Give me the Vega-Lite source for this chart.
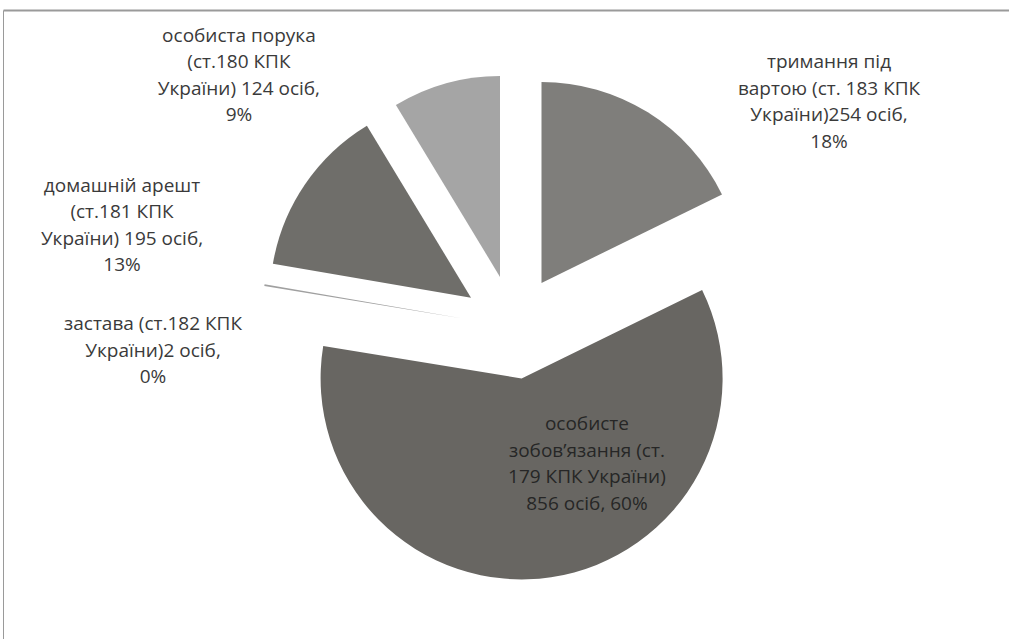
{
  "$schema": "https://vega.github.io/schema/vega-lite/v6.json",
  "width": 1006,
  "height": 629,
  "autosize": {"type": "none"},
  "padding": {"left": 3, "top": 10, "right": 0, "bottom": 0},
  "background": "white",
  "config": {"view": {"stroke": null, "strokeWidth": 0}},
  "data": {
    "values": [
      {"n": 1, "category": "тримання під вартою", "value": 254, "label": ["тримання під", "вартою (ст. 183 КПК", "України)254 осіб,", "18%"]},
      {"n": 2, "category": "особисте зобов’язання", "value": 856, "label": ["особисте", "зобов’язання (ст.", "179 КПК України)", "856 осіб, 60%"]},
      {"n": 3, "category": "застава", "value": 2, "label": ["застава (ст.182 КПК", "України)2 осіб,", "0%"]},
      {"n": 4, "category": "домашній арешт", "value": 195, "label": ["домашній арешт", "(ст.181 КПК", "України) 195 осіб,", "13%"]},
      {"n": 5, "category": "особиста порука", "value": 124, "label": ["особиста порука", "(ст.180 КПК", "України) 124 осіб,", "9%"]}
    ]
  },
  "transform": [
    {"stack": "value", "groupby": [], "sort": [{"field": "n", "order": "ascending"}], "as": ["t0", "t1"]}
  ],
  "layer": [
    {
      "mark": {"type": "point", "opacity": 0, "size": 0},
      "encoding": {
        "x": {"field": "value", "type": "quantitative", "axis": {"orient": "top", "labels": false, "ticks": false, "title": null, "grid": false, "domainColor": "#9a9a9a", "domainWidth": 2}},
        "y": {"field": "n", "type": "quantitative", "axis": {"orient": "left", "labels": false, "ticks": false, "title": null, "grid": false, "domainColor": "#9a9a9a", "domainWidth": 1}}
      }
    },
    {
      "transform": [{"filter": "datum.n == 1"}],
      "mark": {"type": "arc", "radius": 201, "xOffset": 35.5, "yOffset": -41.6},
      "encoding": {
        "theta": {"field": "t0", "type": "quantitative", "stack": null, "scale": {"domain": [0, 1431], "zero": true, "nice": false}},
        "theta2": {"field": "t1"},
        "color": {"field": "category", "type": "nominal", "legend": null,
          "scale": {"domain": ["тримання під вартою", "особисте зобов’язання", "застава", "домашній арешт", "особиста порука"],
                    "range": ["#7f7e7b", "#686662", "#a0a0a0", "#6f6e6a", "#a5a5a5"]}}
      }
    },
    {
      "transform": [{"filter": "datum.n == 2"}],
      "mark": {"type": "arc", "radius": 201, "xOffset": 15.6, "yOffset": 53.9},
      "encoding": {
        "theta": {"field": "t0", "type": "quantitative", "stack": null, "scale": {"domain": [0, 1431], "zero": true, "nice": false}},
        "theta2": {"field": "t1"}, "color": {"field": "category", "type": "nominal", "legend": null}}
    },
    {
      "transform": [{"filter": "datum.n == 3"}],
      "mark": {"type": "arc", "radius": 201, "xOffset": -43.3, "yOffset": -6.1},
      "encoding": {
        "theta": {"field": "t0", "type": "quantitative", "stack": null, "scale": {"domain": [0, 1431], "zero": true, "nice": false}},
        "theta2": {"field": "t1"}, "color": {"field": "category", "type": "nominal", "legend": null}}
    },
    {
      "transform": [{"filter": "datum.n == 4"}],
      "mark": {"type": "arc", "radius": 201, "xOffset": -35.0, "yOffset": -26.8},
      "encoding": {
        "theta": {"field": "t0", "type": "quantitative", "stack": null, "scale": {"domain": [0, 1431], "zero": true, "nice": false}},
        "theta2": {"field": "t1"}, "color": {"field": "category", "type": "nominal", "legend": null}}
    },
    {
      "transform": [{"filter": "datum.n == 5"}],
      "mark": {"type": "arc", "radius": 201, "xOffset": -6.0, "yOffset": -47.6},
      "encoding": {
        "theta": {"field": "t0", "type": "quantitative", "stack": null, "scale": {"domain": [0, 1431], "zero": true, "nice": false}},
        "theta2": {"field": "t1"}, "color": {"field": "category", "type": "nominal", "legend": null}}
    },
    {
      "transform": [{"filter": "datum.n == 1"}],
      "mark": {"type": "text", "radius": 259, "dx": 323, "dy": 2.5, "align": "center", "baseline": "alphabetic", "lineHeight": 26.5, "font": "Open Sans", "fontSize": 19, "color": "#3a3a3a"},
      "encoding": {
        "theta": {"field": "t0", "type": "quantitative", "stack": null, "scale": {"domain": [0, 1431], "zero": true, "nice": false}},
        "text": {"field": "label"}}
    },
    {
      "transform": [{"filter": "datum.n == 2"}],
      "mark": {"type": "text", "radius": 20.2, "dx": 62.8, "dy": 114.4, "align": "center", "baseline": "alphabetic", "lineHeight": 26.5, "font": "Open Sans", "fontSize": 19, "color": "#262626"},
      "encoding": {
        "theta": {"field": "t0", "type": "quantitative", "stack": null, "scale": {"domain": [0, 1431], "zero": true, "nice": false}},
        "text": {"field": "label"}}
    },
    {
      "transform": [{"filter": "datum.n == 3"}],
      "mark": {"type": "text", "radius": 355.8, "dx": -1.8, "dy": 62.7, "align": "center", "baseline": "alphabetic", "lineHeight": 26.5, "font": "Open Sans", "fontSize": 19, "color": "#3a3a3a"},
      "encoding": {
        "theta": {"field": "t0", "type": "quantitative", "stack": null, "scale": {"domain": [0, 1431], "zero": true, "nice": false}},
        "text": {"field": "label"}}
    },
    {
      "transform": [{"filter": "datum.n == 4"}],
      "mark": {"type": "text", "radius": 409.3, "dx": 19.4, "dy": -63.5, "align": "center", "baseline": "alphabetic", "lineHeight": 26.5, "font": "Open Sans", "fontSize": 19, "color": "#3a3a3a"},
      "encoding": {
        "theta": {"field": "t0", "type": "quantitative", "stack": null, "scale": {"domain": [0, 1431], "zero": true, "nice": false}},
        "text": {"field": "label"}}
    },
    {
      "transform": [{"filter": "datum.n == 5"}],
      "mark": {"type": "text", "radius": 386.5, "dx": -66.9, "dy": 47.9, "align": "center", "baseline": "alphabetic", "lineHeight": 26.5, "font": "Open Sans", "fontSize": 19, "color": "#3a3a3a"},
      "encoding": {
        "theta": {"field": "t0", "type": "quantitative", "stack": null, "scale": {"domain": [0, 1431], "zero": true, "nice": false}},
        "text": {"field": "label"}}
    }
  ]
}
